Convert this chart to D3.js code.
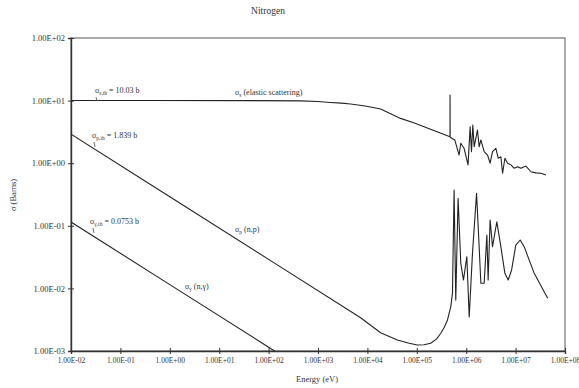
<!DOCTYPE html>
<html>
<head>
<meta charset="utf-8">
<script src="https://cdn.jsdelivr.net/npm/d3@7"></script>
<style>
  body { margin: 0; background: #fff; }
  svg text { font-family: "Liberation Serif", "DejaVu Serif", serif; fill: #333; }
</style>
</head>
<body>
<div id="chart"></div>
<script>
// energies in eV, cross sections in barns
const elasticE = [1e-2, 0.4, 42, 440, 1000, 1780, 3000, 4570, 9000, 1.85e4, 4.7e4, 8.65e4, 2.42e5, 4.70e5, 4.71e5, 4.73e5,
  5.87e5, 7.18e5, 7.77e5, 9.06e5, 1.09e6, 1.20e6, 1.28e6, 1.36e6, 1.45e6, 1.69e6, 1.83e6, 1.98e6,
  2.31e6, 2.70e6, 3.05e6, 3.41e6, 3.98e6, 4.44e6, 5.03e6, 5.45e6, 6.07e6, 6.89e6, 8.03e6, 9.37e6,
  1.10e7, 1.28e7, 1.62e7, 2.04e7, 2.58e7, 3.26e7, 4.12e7];
const elasticS = [10.03, 10.03, 10.0, 9.9, 9.65, 9.33, 9.1, 8.84, 8.2, 7.35, 5.2, 4.43, 3.24, 2.65, 12.3, 2.6,
  2.35, 1.35, 2.08, 1.73, 0.94, 3.83, 1.53, 4.07, 1.83, 3.39, 1.83, 2.35,
  1.53, 1.35, 1.0, 1.53, 1.73, 1.20, 1.27, 0.69, 1.20, 1.0, 0.94, 0.83,
  0.88, 0.83, 0.90, 0.73, 0.70, 0.69, 0.65];

const npE = [1e-2, 1, 100, 7.3e3, 1.85e4, 4.04e4, 7e4, 1.03e5, 1.4e5, 1.91e5, 2.5e5, 3.06e5, 3.6e5, 4.18e5, 4.88e5, 5.27e5,
  5.69e5, 6.15e5, 6.85e5, 7.77e5, 8.81e5, 1.03e6, 1.15e6, 1.34e6, 1.62e6, 1.83e6, 1.98e6, 2.31e6,
  2.62e6, 2.78e6, 3.05e6, 3.41e6, 4.17e6, 5.03e6, 6.07e6, 7.08e6, 8.30e6, 1.01e7, 1.24e7, 1.49e7,
  2.38e7, 4.46e7];
const npS = [2.91, 0.291, 0.0291, 3.4e-3, 1.96e-3, 1.50e-3, 1.33e-3, 1.25e-3, 1.26e-3, 1.33e-3, 1.55e-3, 1.92e-3, 2.4e-3, 3.13e-3, 5.1e-3, 8.4e-3,
  0.373, 6.5e-3, 0.275, 0.0252, 0.0136, 0.0321, 3.5e-3, 0.0364, 0.330, 0.0464, 0.0121, 0.0121,
  0.0713, 0.0136, 0.124, 0.0464, 0.116, 0.0464, 0.0174, 0.0136, 0.0197, 0.0493, 0.0593, 0.0464,
  0.0174, 6.95e-3];

const ngE = [1e-2, 1, 100, 1000];
const ngS = [0.115, 0.0115, 1.15e-3, 3.6e-4];

const xTicks = [1e-2, 1e-1, 1e0, 1e1, 1e2, 1e3, 1e4, 1e5, 1e6, 1e7, 1e8];
const xTickLabels = ["1.00E-02", "1.00E-01", "1.00E+00", "1.00E+01", "1.00E+02", "1.00E+03",
  "1.00E+04", "1.00E+05", "1.00E+06", "1.00E+07", "1.00E+08"];
const yTicks = [1e-3, 1e-2, 1e-1, 1e0, 1e1, 1e2];
const yTickLabels = ["1.00E-03", "1.00E-02", "1.00E-01", "1.00E+00", "1.00E+01", "1.00E+02"];

const width = 579, height = 388;
const mLeft = 71, mRight = 565, mTop = 38, mBottom = 351;

const svg = d3.select("#chart").append("svg")
  .attr("width", width)
  .attr("height", height);

const x = d3.scaleLog().domain([1e-2, 1e8]).range([mLeft, mRight]);
const y = d3.scaleLog().domain([1e-3, 1e2]).range([mBottom, mTop]);

svg.append("clipPath").attr("id", "plot")
  .append("rect")
  .attr("x", mLeft).attr("y", mTop)
  .attr("width", mRight - mLeft).attr("height", mBottom - mTop);

// frame
svg.append("rect")
  .attr("x", mLeft).attr("y", mTop)
  .attr("width", mRight - mLeft).attr("height", mBottom - mTop)
  .attr("fill", "none")
  .attr("stroke", "#555")
  .attr("stroke-width", 1);

// x axis
const xAxis = svg.append("g")
  .attr("transform", "translate(0," + mBottom + ")")
  .call(d3.axisBottom(x).tickValues(xTicks).tickSize(3).tickPadding(4)
    .tickFormat((d, i) => xTickLabels[i]));
xAxis.selectAll(".tick line").attr("y1", -3).attr("y2", 3).attr("stroke", "#333");
xAxis.select(".domain").attr("stroke", "#333").attr("stroke-width", 1.4);
xAxis.selectAll("text").attr("font-size", 7.5).attr("fill", "#333");

// y axis
const yAxis = svg.append("g")
  .attr("transform", "translate(" + mLeft + ",0)")
  .call(d3.axisLeft(y).tickValues(yTicks).tickSize(3).tickPadding(3)
    .tickFormat((d, i) => yTickLabels[i]));
yAxis.selectAll(".tick line").attr("x1", -3).attr("x2", 3).attr("stroke", "#333");
yAxis.select(".domain").attr("stroke", "#333").attr("stroke-width", 1.4);
yAxis.selectAll("text").attr("font-size", 8.5).attr("fill", "#333");

// curves
const line = d3.line()
  .x(d => x(d[0]))
  .y(d => y(d[1]));

const series = [
  d3.zip(elasticE, elasticS),
  d3.zip(npE, npS),
  d3.zip(ngE, ngS)
];

svg.append("g")
  .attr("clip-path", "url(#plot)")
  .selectAll("path")
  .data(series)
  .join("path")
  .attr("fill", "none")
  .attr("stroke", "#222")
  .attr("stroke-width", 1.1)
  .attr("stroke-linejoin", "round")
  .attr("d", line);

// titles
svg.append("text")
  .attr("x", 268).attr("y", 14)
  .attr("text-anchor", "middle")
  .attr("font-size", 9.5)
  .text("Nitrogen");

svg.append("text")
  .attr("x", 317).attr("y", 382)
  .attr("text-anchor", "middle")
  .attr("font-size", 8.5)
  .text("Energy (eV)");

svg.append("text")
  .attr("transform", "translate(16,195) rotate(-90)")
  .attr("text-anchor", "middle")
  .attr("font-size", 8.5)
  .text("σ (Barns)");

// annotations
function sigmaLabel(px, py, sub, rest) {
  const t = svg.append("text").attr("x", px).attr("y", py).attr("font-size", 8);
  t.append("tspan").text("σ");
  t.append("tspan").attr("font-size", 5.5).attr("dy", 2).text(sub);
  t.append("tspan").attr("dy", -2).text(rest);
}

sigmaLabel(95, 93, "s,th", " = 10.03 b");
sigmaLabel(235, 95, "s", " (elastic scattering)");
sigmaLabel(92, 138, "p,th", " = 1.839 b");
sigmaLabel(90, 224, "γ,th", " = 0.0753 b");
sigmaLabel(235, 232, "p", " (n,p)");
sigmaLabel(185, 289, "γ", " (n,γ)");

// small leaders from the labels to the curves
const leaders = [[96, 97, 97, 101], [94, 142, 95, 147], [93, 228, 94, 233]];
svg.append("g").selectAll("line")
  .data(leaders)
  .join("line")
  .attr("x1", d => d[0]).attr("y1", d => d[1])
  .attr("x2", d => d[2]).attr("y2", d => d[3])
  .attr("stroke", "#444")
  .attr("stroke-width", 0.8);
</script>
</body>
</html>
